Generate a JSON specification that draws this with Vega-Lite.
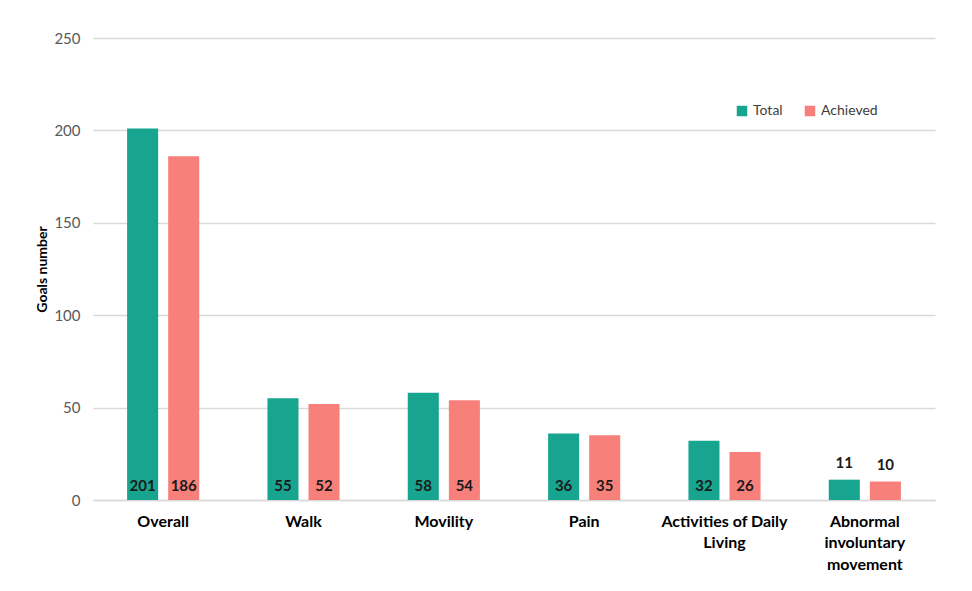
{
  "$schema": "https://vega.github.io/schema/vega-lite/v6.json",
  "autosize": {"type": "none"},
  "padding": {"left": 93, "top": 38, "right": 37, "bottom": 91},
  "width": 842,
  "height": 462,
  "background": "white",
  "config": {
    "font": "Lato",
    "view": {"stroke": null}
  },
  "data": {
    "values": [
      {"category": "Overall", "series": "Total", "value": 201},
      {"category": "Overall", "series": "Achieved", "value": 186},
      {"category": "Walk", "series": "Total", "value": 55},
      {"category": "Walk", "series": "Achieved", "value": 52},
      {"category": "Movility", "series": "Total", "value": 58},
      {"category": "Movility", "series": "Achieved", "value": 54},
      {"category": "Pain", "series": "Total", "value": 36},
      {"category": "Pain", "series": "Achieved", "value": 35},
      {"category": "Activities of Daily Living", "series": "Total", "value": 32},
      {"category": "Activities of Daily Living", "series": "Achieved", "value": 26},
      {"category": "Abnormal involuntary movement", "series": "Total", "value": 11},
      {"category": "Abnormal involuntary movement", "series": "Achieved", "value": 10}
    ]
  },
  "encoding": {
    "x": {
      "field": "category",
      "type": "nominal",
      "sort": null,
      "title": null,
      "scale": {"paddingInner": 0.486, "paddingOuter": 0.243},
      "axis": {
        "labelAngle": 0,
        "labelFontWeight": "bold",
        "labelFontSize": 16,
        "labelColor": "black",
        "labelPadding": 13,
        "labelBaseline": "top",
        "labelLineHeight": 21.5,
        "labelLimit": 200,
        "ticks": false,
        "domainColor": "#d9d9d9",
        "domainWidth": 1.5,
        "labelExpr": "datum.label == 'Activities of Daily Living' ? ['Activities of Daily', 'Living'] : datum.label == 'Abnormal involuntary movement' ? ['Abnormal', 'involuntary', 'movement'] : datum.label"
      }
    },
    "xOffset": {
      "field": "series",
      "type": "nominal",
      "sort": ["Total", "Achieved"],
      "scale": {"paddingInner": 0.244, "paddingOuter": 0}
    },
    "color": {
      "field": "series",
      "type": "nominal",
      "sort": ["Total", "Achieved"],
      "scale": {"domain": ["Total", "Achieved"], "range": ["#17a590", "#f8807b"]},
      "legend": {
        "title": null,
        "orient": "none",
        "direction": "horizontal",
        "legendX": 642,
        "legendY": 66,
        "symbolType": "square",
        "symbolSize": 110,
        "labelFontSize": 14,
        "labelColor": "#404040",
        "columnPadding": 20
      }
    }
  },
  "layer": [
    {
      "mark": {"type": "bar"},
      "encoding": {
        "y": {
          "field": "value",
          "type": "quantitative",
          "title": "Goals number",
          "scale": {"domain": [0, 250], "nice": false},
          "axis": {
            "values": [0, 50, 100, 150, 200, 250],
            "domain": false,
            "ticks": false,
            "gridColor": "#d9d9d9",
            "gridWidth": 1.3,
            "labelFontSize": 15,
            "labelColor": "#595959",
            "labelPadding": 13,
            "titleFontSize": 14,
            "titleFontWeight": "bold",
            "titleColor": "black",
            "titlePadding": 4
          }
        }
      }
    },
    {
      "transform": [{"filter": "datum.value >= 20"}],
      "mark": {"type": "text", "fontWeight": "bold", "fontSize": 15, "baseline": "bottom", "dy": -6},
      "encoding": {
        "y": {"datum": 0, "type": "quantitative"},
        "text": {"field": "value", "type": "quantitative"},
        "color": {"value": "#1a1a1a"}
      }
    },
    {
      "transform": [{"filter": "datum.value < 20"}],
      "mark": {"type": "text", "fontWeight": "bold", "fontSize": 15, "baseline": "bottom", "dy": -9},
      "encoding": {
        "y": {"field": "value", "type": "quantitative"},
        "text": {"field": "value", "type": "quantitative"},
        "color": {"value": "#1a1a1a"}
      }
    }
  ]
}
